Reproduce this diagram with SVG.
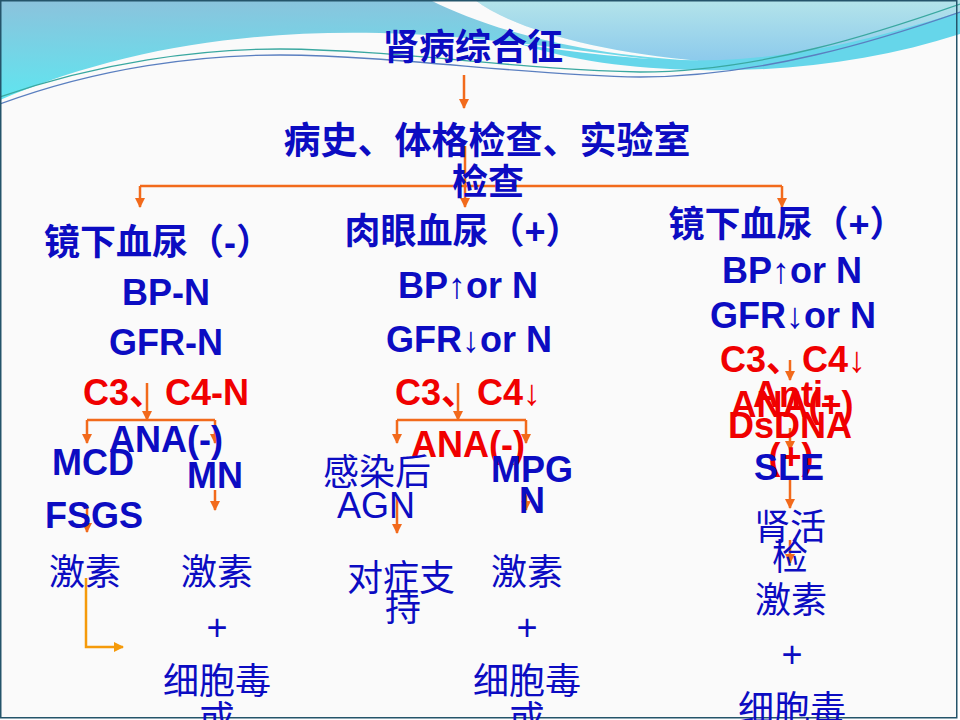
<svg xmlns="http://www.w3.org/2000/svg" width="960" height="720" viewBox="0 0 960 720">
<defs>
<linearGradient id="gLeft" x1="0" y1="0" x2="0.15" y2="1">
<stop offset="0" stop-color="#8cc2dc"/>
<stop offset="1" stop-color="#5ee6f0"/>
</linearGradient>
<linearGradient id="gRight" x1="0" y1="0" x2="0" y2="1">
<stop offset="0" stop-color="#b4e4ea"/>
<stop offset="1" stop-color="#8ccaec"/>
</linearGradient>
<marker id="ah" viewBox="0 0 10 10" refX="9" refY="5" markerWidth="4" markerHeight="4" orient="auto" markerUnits="strokeWidth">
<path d="M0,0 L10,5 L0,10 Z" fill="#f26a1b"/>
</marker>
<marker id="ah2" viewBox="0 0 10 10" refX="9" refY="5" markerWidth="4" markerHeight="4" orient="auto" markerUnits="strokeWidth">
<path d="M0,0 L10,5 L0,10 Z" fill="#f59a0a"/>
</marker>
<style>
.cb{font-family:"Liberation Sans","Noto Sans CJK SC",sans-serif;font-weight:bold;font-size:36px;fill:#0c0cc2;text-anchor:middle}
.cr{font-family:"Liberation Sans","Noto Sans CJK SC",sans-serif;font-weight:bold;font-size:36px;fill:#f00000;text-anchor:middle}
.cn{font-family:"Liberation Sans","Noto Sans CJK SC",sans-serif;font-weight:normal;font-size:36px;fill:#0c0cc2;text-anchor:middle}
.ln{fill:none;stroke:#f26a1b;stroke-width:2.5}
.ar{fill:none;stroke:#f26a1b;stroke-width:2.5;marker-end:url(#ah)}
.ar2{fill:none;stroke:#f59a0a;stroke-width:2.5;marker-end:url(#ah2)}
</style>
</defs>

<!-- background -->
<rect x="0" y="0" width="960" height="720" fill="#ffffff"/>
<rect x="0" y="0" width="957" height="718" fill="#fafafa"/>
<path d="M0,0 H960 V30 C880,58 780,70 700,64 C600,56 500,36 380,33 C250,30 120,48 0,100 Z" fill="url(#gLeft)"/>
<path d="M475,0 H960 V22 C900,46 800,62 700,61 C600,52 515,30 475,0 Z" fill="url(#gRight)"/>
<path d="M430,0 L475,0 C515,30 600,52 700,61 C580,55 490,30 430,0 Z" fill="#fafafa"/>
<path d="M520,44 C600,56 660,62 720,60 C820,56 900,30 960,12 V34 C880,60 790,72 700,70 C630,69 570,60 520,44 Z" fill="#66d6ea"/>
<path d="M0,97 C100,62 200,49 280,49 C400,50 520,70 640,72 C760,72 880,32 960,4" fill="none" stroke="#3aa8a0" stroke-width="1.3"/>
<path d="M0,104 C100,67 200,55 280,55 C400,56 520,75 640,77 C760,77 880,40 960,12" fill="none" stroke="#5a7fc0" stroke-width="1.3"/>
<rect x="0.75" y="0.75" width="956" height="717" fill="none" stroke="#24546a" stroke-width="1.5"/>

<!-- connectors -->
<g id="connectors">
<line class="ar" x1="464" y1="75" x2="464" y2="108"/>
<line class="ln" x1="465" y1="146" x2="465" y2="186"/>
<polyline class="ln" points="140,186 782,186"/>
<line class="ar" x1="140" y1="186" x2="140" y2="207"/>
<line class="ar" x1="465" y1="186" x2="465" y2="207"/>
<line class="ar" x1="782" y1="186" x2="782" y2="207"/>

<line class="ar" x1="147" y1="383" x2="147" y2="420"/>
<polyline class="ln" points="87,420 215,420"/>
<line class="ar" x1="87" y1="420" x2="87" y2="443"/>
<line class="ar" x1="215" y1="420" x2="215" y2="443"/>
<line class="ar" x1="87" y1="505" x2="87" y2="532"/>
<line class="ar" x1="215" y1="490" x2="215" y2="510"/>
<polyline class="ar2" points="86,578 86,647 123,647"/>

<line class="ar" x1="458" y1="383" x2="458" y2="420"/>
<polyline class="ln" points="397,420 526,420"/>
<line class="ar" x1="397" y1="420" x2="397" y2="443"/>
<line class="ar" x1="526" y1="420" x2="526" y2="443"/>
<line class="ar" x1="397" y1="497" x2="397" y2="533"/>
<line class="ar" x1="526" y1="492" x2="526" y2="510"/>

<line class="ar" x1="790" y1="360" x2="790" y2="380"/>
<line class="ar" x1="790" y1="428" x2="790" y2="450"/>
<line class="ar" x1="790" y1="480" x2="790" y2="508"/>
<line class="ar" x1="790" y1="540" x2="790" y2="563"/>
</g>

<!-- top nodes -->
<g id="n-title"><text class="cb" x="473" y="60">肾病综合征</text></g>
<g id="n-exam"><text class="cb" x="487" y="154" style="font-size:37px">病史、体格检查、实验室</text><text class="cb" x="488" y="195">检查</text></g>

<!-- left column -->
<g id="n-left-head"><text class="cb" x="158" y="255">镜下血尿（-）</text></g>
<g id="n-left-bp"><text class="cb" x="166" y="305">BP-N</text></g>
<g id="n-left-gfr"><text class="cb" x="166" y="355">GFR-N</text></g>
<g id="n-left-c3"><text class="cr" x="166" y="405">C3、C4-N</text></g>
<g id="n-left-ana"><text class="cb" x="166" y="452">ANA(-)</text></g>
<g id="n-mcd"><text class="cb" x="93" y="475">MCD</text><text class="cb" x="94" y="528">FSGS</text></g>
<g id="n-mn"><text class="cb" x="215" y="488">MN</text></g>
<g id="n-left-t1"><text class="cn" x="85" y="585">激素</text></g>
<g id="n-left-t2"><text class="cn" x="217" y="585">激素</text><text class="cn" x="217" y="640">+</text><text class="cn" x="217" y="694">细胞毒</text><text class="cn" x="217" y="732">或</text></g>

<!-- middle column -->
<g id="n-mid-head"><text class="cb" x="463" y="244">肉眼血尿（+）</text></g>
<g id="n-mid-bp"><text class="cb" x="468" y="298">BP↑or N</text></g>
<g id="n-mid-gfr"><text class="cb" x="469" y="352">GFR↓or N</text></g>
<g id="n-mid-c3"><text class="cr" x="468" y="405">C3、C4↓</text></g>
<g id="n-mid-ana"><text class="cr" x="468" y="457">ANA(-)</text></g>
<g id="n-agn"><text class="cn" x="377" y="485">感染后</text><text class="cn" x="376" y="518">AGN</text></g>
<g id="n-mpgn"><text class="cb" x="532" y="482">MPG</text><text class="cb" x="532" y="513">N</text></g>
<g id="n-mid-t1"><text class="cn" x="401" y="591">对症支</text><text class="cn" x="403" y="621">持</text></g>
<g id="n-mid-t2"><text class="cn" x="527" y="585">激素</text><text class="cn" x="527" y="640">+</text><text class="cn" x="527" y="694">细胞毒</text><text class="cn" x="527" y="732">或</text></g>

<!-- right column -->
<g id="n-right-head"><text class="cb" x="787" y="237">镜下血尿（+）</text></g>
<g id="n-right-bp"><text class="cb" x="792" y="283">BP↑or N</text></g>
<g id="n-right-gfr"><text class="cb" x="793" y="328">GFR↓or N</text></g>
<g id="n-right-c3"><text class="cr" x="793" y="372">C3、C4↓</text></g>
<g id="n-right-ana"><text class="cr" x="792" y="417">ANA(+)</text></g>
<g id="n-dsdna"><text class="cr" x="794" y="407">Anti-</text><text class="cr" x="790" y="438">DsDNA</text><text class="cr" x="791" y="469">(+)</text></g>
<g id="n-sle"><text class="cb" x="789" y="480">SLE</text></g>
<g id="n-biopsy"><text class="cn" x="790" y="540">肾活</text><text class="cn" x="790" y="570">检</text></g>
<g id="n-right-t"><text class="cn" x="791" y="613">激素</text><text class="cn" x="792" y="667">+</text><text class="cn" x="792" y="722">细胞毒</text></g>
</svg>
